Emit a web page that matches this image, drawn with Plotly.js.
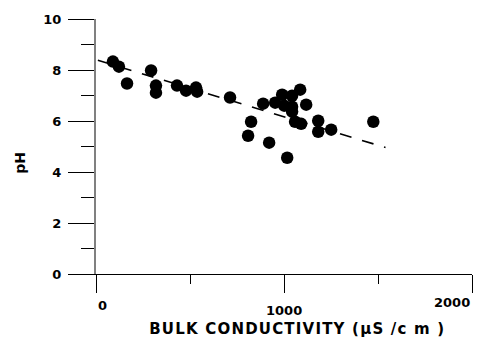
<!DOCTYPE html>
<html>
<head>
<meta charset="utf-8">
<script src="https://cdn.plot.ly/plotly-3.0.1.min.js"></script>
<style>html,body{margin:0;padding:0;background:#fff;}#chart{width:483px;height:337px;}</style>
</head>
<body>
<div id="chart"></div>
<script>
// Data
const conductivity = [90, 122, 165, 293, 319, 319, 431, 479, 532, 538, 713, 825, 809, 921, 1017,
  889, 953, 990, 1043, 1086, 1001, 1043, 1043, 1118, 1059, 1091, 1182, 1182, 1251, 1475];
const pH = [8.33, 8.13, 7.47, 7.98, 7.39, 7.11, 7.39, 7.19, 7.31, 7.15, 6.92, 5.97, 5.42, 5.15, 4.56,
  6.68, 6.72, 7.03, 6.99, 7.23, 6.60, 6.56, 6.37, 6.64, 5.97, 5.89, 6.01, 5.58, 5.66, 5.97];
const fitX = [10, 1540];
const fitY = [8.38, 4.96];
const xTickVals = [0, 1000, 2000];
const xTickText = ['0', '1000', '2000'];
const yTickVals = [0, 2, 4, 6, 8, 10];
const yTickText = ['0', '2', '4', '6', '8', '10'];
const xTitle = 'BULK CONDUCTIVITY (\u00b5S /c m )';
const yTitle = 'pH';

const font = {family: '"DejaVu Sans", "Liberation Sans", Arial, sans-serif', color: '#000'};

const traces = [
  {
    x: fitX, y: fitY, type: 'scatter', mode: 'lines',
    line: {color: '#000', width: 1.6, dash: '12px,11px'},
    hoverinfo: 'skip', showlegend: false
  },
  {
    x: conductivity, y: pH, type: 'scatter', mode: 'markers',
    marker: {color: '#000', size: 12.5, symbol: 'circle', line: {width: 0}},
    cliponaxis: false, showlegend: false
  }
];

const xAnchors = ['left', 'center', 'right'];
const xLabelShift = [-31, -36, -28];
const annotations = xTickVals.map((v, i) => ({
  x: v, xref: 'x', y: 0, yref: 'paper',
  text: '<b>' + xTickText[i] + '</b>', showarrow: false,
  xanchor: xAnchors[i], yanchor: 'middle', yshift: xLabelShift[i],
  font: Object.assign({}, font, {size: 13})
}));
annotations.push({
  x: 0.536, xref: 'paper', y: 0, yref: 'paper', yshift: -55,
  text: '<b>' + xTitle + '</b>', showarrow: false,
  xanchor: 'center', yanchor: 'middle',
  font: Object.assign({}, font, {size: 15})
});
annotations.push({
  x: 0, xref: 'paper', xshift: -76, y: 0.436, yref: 'paper',
  text: '<b>' + yTitle + '</b>', showarrow: false, textangle: -90,
  xanchor: 'center', yanchor: 'middle',
  font: Object.assign({}, font, {size: 14})
});

const layout = {
  width: 483, height: 337,
  margin: {l: 96, r: 11, t: 19, b: 63, pad: 0},
  paper_bgcolor: '#fff', plot_bgcolor: '#fff',
  showlegend: false,
  font: font,
  xaxis: {
    range: [0, 2000], showgrid: false, zeroline: false,
    showline: true, linecolor: '#000', linewidth: 1,
    ticks: 'outside', ticklen: 18, tickcolor: '#000', tickwidth: 1,
    tickvals: xTickVals, ticktext: xTickText, showticklabels: false,
    minor: {ticks: 'outside', ticklen: 9, tickcolor: '#000', tickwidth: 1, dtick: 500, tick0: 0, showgrid: false}
  },
  yaxis: {
    range: [0, 10], showgrid: false, zeroline: false,
    showline: true, linecolor: '#808080', linewidth: 2,
    ticks: 'outside', ticklen: 26, tickcolor: '#000', tickwidth: 1,
    tickvals: yTickVals, ticktext: yTickText.map(t => '<b>' + t + '</b>'),
    tickfont: Object.assign({}, font, {size: 13}),
    ticklabelstandoff: 4,
    minor: {ticks: 'outside', ticklen: 13, tickcolor: '#000', tickwidth: 1, dtick: 1, tick0: 0, showgrid: false}
  },
  annotations: annotations
};

Plotly.newPlot('chart', traces, layout, {displayModeBar: false, staticPlot: true}).then(gd => {
  // widen the x-axis title letter spacing like the reference
  const texts = gd.querySelectorAll('.annotation-text');
  texts.forEach(t => {
    if (t.textContent.indexOf('BULK') === 0) t.style.letterSpacing = '1.2px';
  });
});
</script>
</body>
</html>
